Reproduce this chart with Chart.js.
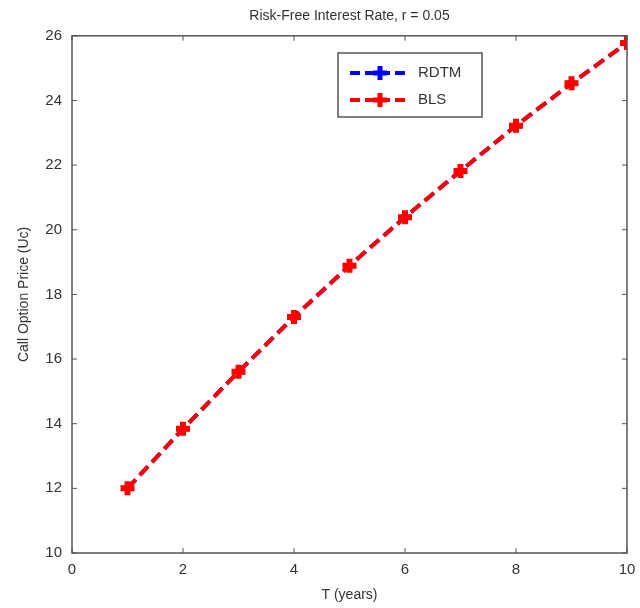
<!DOCTYPE html>
<html>
<head>
<meta charset="utf-8">
<script src="https://cdn.jsdelivr.net/npm/chart.js@4"></script>
<style>
  html, body { margin: 0; padding: 0; background: #fff; }
  #wrap { width: 640px; height: 608px; }
</style>
</head>
<body>
<div id="wrap"><canvas id="chart" width="640" height="608"></canvas></div>
<script>
const years = [1, 2, 3, 4, 5, 6, 7, 8, 9, 10];
const rdtm = [12.0, 13.84, 15.61, 17.3, 18.89, 20.39, 21.82, 23.22, 24.53, 25.78];
const bls = [12.0, 13.84, 15.61, 17.3, 18.89, 20.39, 21.82, 23.22, 24.53, 25.78];

const axisColor = "#555";
const textColor = "#333";
const font = "Liberation Sans, Arial, sans-serif";

// matlab style box, inner ticks and legend
const matlabBox = {
  id: "matlabBox",
  afterDraw(chart) {
    const { ctx, chartArea: a, scales } = chart;
    ctx.save();
    ctx.strokeStyle = axisColor;
    ctx.lineWidth = 1.5;
    ctx.strokeRect(a.left, a.top, a.right - a.left, a.bottom - a.top);
    ctx.lineWidth = 1;
    scales.x.ticks.forEach((t) => {
      const x = scales.x.getPixelForValue(t.value);
      ctx.beginPath();
      ctx.moveTo(x, a.bottom); ctx.lineTo(x, a.bottom - 5);
      ctx.moveTo(x, a.top); ctx.lineTo(x, a.top + 5);
      ctx.stroke();
    });
    scales.y.ticks.forEach((t) => {
      const y = scales.y.getPixelForValue(t.value);
      ctx.beginPath();
      ctx.moveTo(a.left, y); ctx.lineTo(a.left + 5, y);
      ctx.moveTo(a.right, y); ctx.lineTo(a.right - 5, y);
      ctx.stroke();
    });

    // legend
    const lx = 338, ly = 53, lw = 144, lh = 64;
    ctx.fillStyle = "#fff";
    ctx.fillRect(lx, ly, lw, lh);
    ctx.strokeStyle = axisColor;
    ctx.lineWidth = 1.5;
    ctx.strokeRect(lx, ly, lw, lh);
    chart.data.datasets.forEach((ds, i) => {
      const y = ly + 20 + i * 27;
      ctx.strokeStyle = ds.borderColor;
      ctx.lineWidth = 4;
      ctx.setLineDash([10, 5]);
      ctx.beginPath();
      ctx.moveTo(350, y); ctx.lineTo(410, y);
      ctx.stroke();
      ctx.setLineDash([]);
      ctx.beginPath();
      ctx.moveTo(373, y); ctx.lineTo(387, y);
      ctx.moveTo(380, y - 7); ctx.lineTo(380, y + 7);
      ctx.lineWidth = 5;
      ctx.stroke();
      ctx.fillStyle = textColor;
      ctx.font = "15px " + font;
      ctx.textBaseline = "middle";
      ctx.fillText(ds.label, 418, y);
    });
    ctx.restore();
  }
};

new Chart(document.getElementById("chart"), {
  type: "line",
  data: {
    labels: years,
    datasets: [
      {
        label: "RDTM",
        data: rdtm,
        order: 1,
        borderColor: "#0000ff",
        backgroundColor: "#0000ff",
        borderWidth: 4,
        borderDash: [12, 6],
        pointStyle: "cross",
        pointRadius: 6,
        pointBorderWidth: 5,
        tension: 0
      },
      {
        label: "BLS",
        data: bls,
        order: 0,
        borderColor: "#ff0000",
        backgroundColor: "#ff0000",
        borderWidth: 4,
        borderDash: [12, 6],
        pointStyle: "cross",
        pointRadius: 7,
        pointBorderWidth: 6,
        tension: 0
      }
    ]
  },
  options: {
    responsive: false,
    animation: false,
    layout: { padding: { left: 12, right: 12, top: 6, bottom: 0 } },
    plugins: {
      legend: { display: false },
      tooltip: { enabled: false },
      title: {
        display: true,
        fullSize: false,
        text: "Risk-Free Interest Rate, r = 0.05",
        color: textColor,
        font: { family: font, size: 14, weight: "normal" },
        padding: { top: 2, bottom: 11 }
      }
    },
    scales: {
      x: {
        type: "linear",
        min: 0,
        max: 10,
        ticks: { stepSize: 2, color: textColor, font: { family: font, size: 15 }, padding: 0 },
        grid: { display: false },
        border: { display: false },
        title: { display: true, text: "T (years)", color: textColor, font: { family: font, size: 14 }, padding: { top: 4 } },
        afterFit: (s) => { s.height = 55; }
      },
      y: {
        min: 10,
        max: 26,
        ticks: { stepSize: 2, color: textColor, font: { family: font, size: 15 }, padding: 2 },
        grid: { display: false },
        border: { display: false },
        title: { display: true, text: "Call Option Price (Uc)", color: textColor, font: { family: font, size: 14 }, padding: { bottom: 6 } },
        afterFit: (s) => { s.width = 60; }
      }
    }
  },
  plugins: [matlabBox]
});
</script>
</body>
</html>
